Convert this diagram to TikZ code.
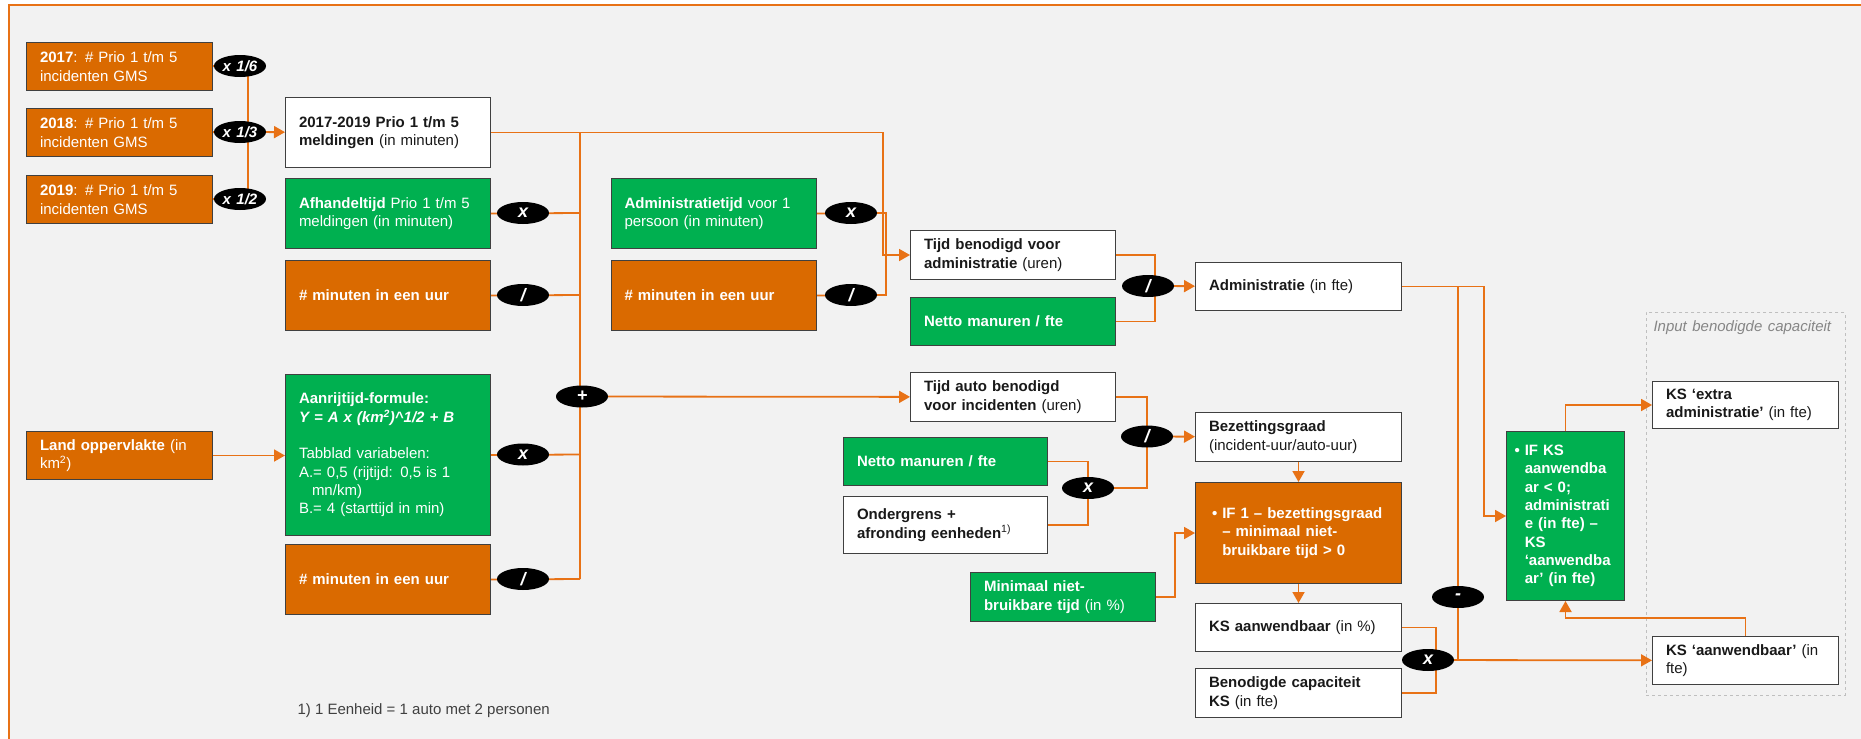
\documentclass[tikz,border=0pt]{standalone}
\usepackage{fontspec}
\setmainfont[WordSpace=1.3]{Liberation Sans}
\newfontfamily\notefont{Liberation Sans}
\usetikzlibrary{shapes.geometric,arrows.meta}

\definecolor{boxorange}{RGB}{218,106,0}
\definecolor{lineorange}{RGB}{232,114,22}
\definecolor{boxgreen}{RGB}{0,176,80}
\definecolor{boxline}{RGB}{64,64,64}
\definecolor{bggray}{RGB}{242,242,242}
\definecolor{textgray}{RGB}{25,25,25}
\definecolor{groupgray}{RGB}{191,191,191}
\definecolor{notegray}{RGB}{64,64,64}

\pgfdeclarelayer{bg}
\pgfdeclarelayer{links}
\pgfsetlayers{bg,links,main}

\newcommand{\ind}{\hphantom{\textbullet\ }}

\tikzset{
  box/.style={rectangle, draw=boxline, line width=1pt, anchor=north west, align=left, inner xsep=13.5pt, inner ysep=0pt},
  obox/.style={box, fill=boxorange, text=white},
  gbox/.style={box, fill=boxgreen, text=white},
  wbox/.style={box, fill=white, text=textgray},
  op/.style={ellipse, fill=black, text=white, font=\fontsize{15pt}{15pt}\selectfont\bfseries\itshape, minimum width=52pt, minimum height=22pt, inner sep=0pt},
  bigop/.style={op, font=\fontsize{18pt}{18pt}\selectfont\bfseries\itshape},
  link/.style={draw=lineorange, line width=1.8pt},
  flow/.style={link, -{Triangle[length=11pt,width=12pt]}}
}

\begin{document}
\begin{tikzpicture}[x=1pt, y=-1pt, font=\fontsize{15pt}{18.3pt}\selectfont]
    \useasboundingbox (0,0) rectangle (1861,739);
    \begin{pgfonlayer}{bg}
        \fill [white] (0,0) rectangle (1861,739);
        \fill [bggray] (9,5) rectangle (1861,739);
        \draw [lineorange, line width=1.3pt] (9,739) -- (9,5) -- (1861,5);
    \end{pgfonlayer}

    % bronnen
    \node [obox, text width=159pt, minimum height=48pt] (y2017) at (26,42) {\textbf{2017}: \# Prio 1 t/m 5\\incidenten GMS};
    \node [obox, text width=159pt, minimum height=48pt] (y2018) at (26,108) {\textbf{2018}: \# Prio 1 t/m 5\\incidenten GMS};
    \node [obox, text width=159pt, minimum height=48pt] (y2019) at (26,175) {\textbf{2019}: \# Prio 1 t/m 5\\incidenten GMS};
    \node [obox, text width=159pt, minimum height=48pt] (land) at (26,431) {\textbf{Land oppervlakte} (in\\km\textsuperscript{2})};
    \node [op] (op16) at (240,66) {x 1/6};
    \node [op] (op13) at (240,132) {x 1/3};
    \node [op] (op12) at (240,199) {x 1/2};

    % meldingen en aanrijtijd
    \node [wbox, text width=178pt, minimum height=70pt] (melding) at (285,97) {\textbf{2017-2019 Prio 1 t/m 5}\\\textbf{meldingen} (in minuten)};
    \node [gbox, text width=178pt, minimum height=70pt] (afhandel) at (285,178) {\textbf{Afhandeltijd} Prio 1 t/m 5\\meldingen (in minuten)};
    \node [obox, text width=178pt, minimum height=70pt] (minuur1) at (285,260) {\textbf{\# minuten in een uur}};
    \node [gbox, text width=178pt, minimum height=161pt] (aanrij) at (285,374) {\textbf{Aanrijtijd-formule:}\\\textbf{\textit{Y = A x (km\textsuperscript{2})\textasciicircum 1/2 + B}}\\[18.3pt]Tabblad variabelen:\\A.= 0,5 (rijtijd: 0,5 is 1\\\hspace*{13pt}mn/km)\\B.= 4 (starttijd in min)};
    \node [obox, text width=178pt, minimum height=70pt] (minuur2) at (285,544) {\textbf{\# minuten in een uur}};
    \node [bigop] (opafh) at (523,213) {x};
    \node [bigop] (opmin1) at (523,295) {/};
    \node [bigop] (opaanrij) at (523,454.5) {x};
    \node [bigop] (opmin2) at (523,579) {/};
    \node [bigop] (opplus) at (582,396.5) {+};

    % administratie
    \node [gbox, text width=178pt, minimum height=70pt] (admintijd) at (610.5,178) {\textbf{Administratietijd} voor 1\\persoon (in minuten)};
    \node [obox, text width=178pt, minimum height=70pt] (minuur3) at (610.5,260) {\textbf{\# minuten in een uur}};
    \node [bigop] (opadm) at (851,213) {x};
    \node [bigop] (opmin3) at (851,295) {/};
    \node [wbox, text width=178pt, minimum height=49pt] (tijdadm) at (910,230) {\textbf{Tijd benodigd voor}\\\textbf{administratie} (uren)};
    \node [gbox, text width=178pt, minimum height=48pt] (netto1) at (910,297) {\textbf{Netto manuren / fte}};
    \node [bigop] (opdiv1) at (1148,286) {/};
    \node [wbox, text width=179pt, minimum height=48pt] (administratie) at (1195,262) {\textbf{Administratie} (in fte)};

    % bezetting
    \node [wbox, text width=178pt, minimum height=49pt] (tijdauto) at (910,372) {\textbf{Tijd auto benodigd}\\\textbf{voor incidenten} (uren)};
    \node [gbox, text width=177pt, minimum height=48pt] (netto2) at (843,437) {\textbf{Netto manuren / fte}};
    \node [wbox, text width=177pt, minimum height=57pt] (onder) at (843,496) {\textbf{Ondergrens +}\\\textbf{afronding eenheden}\textsuperscript{1)}};
    \node [gbox, text width=158pt, minimum height=49pt] (minimaal) at (970,572) {\textbf{Minimaal niet-}\\\textbf{bruikbare tijd} (in \%)};
    \node [bigop] (opmaal) at (1088,488) {x};
    \node [bigop] (opdiv2) at (1147,436.5) {/};
    \node [wbox, text width=179pt, minimum height=49pt] (bezetting) at (1195,412) {\textbf{Bezettingsgraad}\\(incident-uur/auto-uur)};
    \node [obox, text width=173pt, inner xsep=16.5pt, minimum height=101pt, font=\fontsize{15pt}{18.3pt}\selectfont\bfseries] (ifbez) at (1195,482) {\textbullet\ IF~1~--~bezettingsgraad\\\ind --~minimaal niet-\\\ind bruikbare tijd > 0};
    \node [wbox, text width=179pt, minimum height=48pt] (ksaanw) at (1195,603) {\textbf{KS aanwendbaar} (in \%)};
    \node [wbox, text width=179pt, minimum height=49pt] (benodigd) at (1195,668) {\textbf{Benodigde capaciteit}\\\textbf{KS} (in fte)};
    \node [bigop] (opks) at (1428,660) {x};
    \node [bigop] (opmin) at (1458,597) {-};

    % input benodigde capaciteit
    \node [gbox, text width=102pt, inner xsep=8pt, minimum height=169pt, font=\fontsize{15pt}{18.3pt}\selectfont\bfseries] (ifks) at (1506,431) {\textbullet\ IF KS\\\ind aanwendba\\\ind ar < 0;\\\ind administrati\\\ind e (in fte) --\\\ind KS\\\ind ‘aanwendba\\\ind ar’ (in fte)};
    \node [wbox, text width=159pt, minimum height=47pt] (ksextra) at (1652,381) {\textbf{KS ‘extra}\\\textbf{administratie’} (in fte)};
    \node [wbox, text width=159pt, minimum height=48pt] (ksaanw2) at (1652,636) {\textbf{KS ‘aanwendbaar’} (in\\fte)};
    \node [anchor=west, text=notegray, font=\notefont\fontsize{15pt}{18pt}\selectfont] (note) at (294,711) {1) 1 Eenheid = 1 auto met 2 personen};

    \coordinate (busA) at (248,0);
    \coordinate (busB) at (580,0);
    \coordinate (busC1) at (883,0);
    \coordinate (busC2) at (886,0);
    \coordinate (busD) at (1155,0);
    \coordinate (busN) at (1175,0);
    \coordinate (busK) at (1436,0);
    \coordinate (busR1) at (1458,0);
    \coordinate (busR2) at (1484,0);

    \begin{pgfonlayer}{bg}
        \node [draw=groupgray, dashed, line width=0.8pt, anchor=north west, minimum width=198.5pt, minimum height=383pt, inner sep=0pt] (group) at (1646,312) {};
        \node [anchor=west, text=groupgray!70!black, font=\fontsize{15pt}{18pt}\selectfont\itshape] (grouplabel) at (1650,328) {Input benodigde capaciteit};
    \end{pgfonlayer}

    \begin{pgfonlayer}{links}
        \draw [link] (y2017) -- (op16);
        \draw [link] (y2018) -- (op13);
        \draw [link] (y2019) -- (op12);
        \draw [link] (op16 -| busA) -- (op12 -| busA);
        \draw [flow] (op13) -- (melding);
        \draw [flow] (melding.east) -| (busC1 |- tijdadm.west) -- (tijdadm.west);
        \draw [link] (melding.east -| busB) -- (opmin2 -| busB);
        \draw [link] (afhandel.east) -- (opafh -| busB);
        \draw [link] (minuur1.east) -- (opmin1 -| busB);
        \draw [link] (aanrij.east) -- (opaanrij -| busB);
        \draw [link] (minuur2.east) -- (opmin2 -| busB);
        \draw [flow] (land.east) -- (land.east -| aanrij.west);
        \draw [flow] (opplus) -- (tijdauto);
        \draw [link] (admintijd.east) -- (opadm -| busC2) -- (opmin3 -| busC2) -- (minuur3.east);
        \draw [link] (tijdadm.east) -| (busD |- netto1.east) -- (netto1.east);
        \draw [flow] (opdiv1) -- (administratie);
        \draw [link] (tijdauto.east) -| (opdiv2.center) |- (opmaal.center);
        \draw [flow] (opdiv2) -- (bezetting);
        \draw [link] (netto2.east) -| (opmaal.center);
        \draw [link] (onder.east) -| (opmaal.center);
        \draw [flow] (minimaal.east) -| (busN |- ifbez.west) -- (ifbez.west);
        \draw [flow] (bezetting) -- (ifbez);
        \draw [flow] (ifbez) -- (ksaanw);
        \draw [link] (ksaanw.east) -| (busK |- benodigd.east) -- (benodigd.east);
        \draw [flow] (opks) -- (ksaanw2);
        \draw [flow] (administratie.east) -| (busR2 |- ifks.west) -- (ifks.west);
        \draw [link] (administratie.east -| busR1) -- (opks -| busR1);
        \draw [flow] (ifks.north) |- (ksextra.west);
        \draw [flow] (ksaanw2.north) -- ++(0,-18) -| (ifks.south);
    \end{pgfonlayer}
\end{tikzpicture}
\end{document}
